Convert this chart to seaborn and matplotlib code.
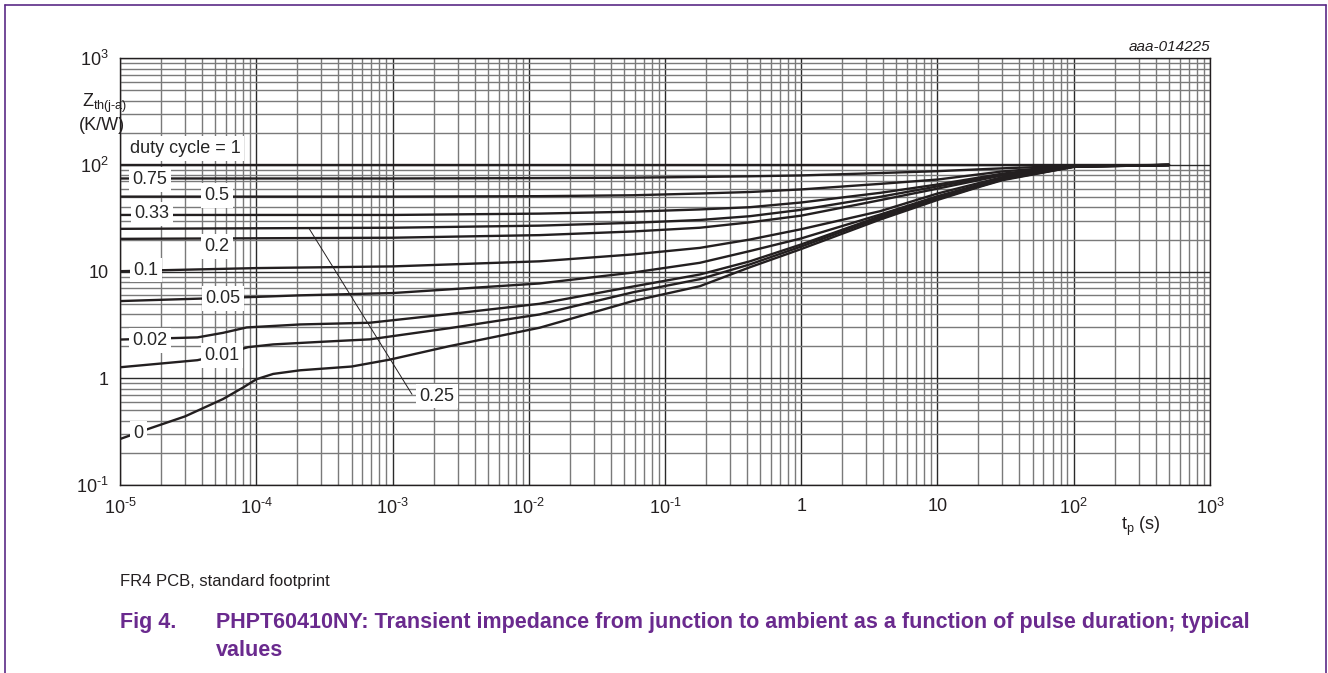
import matplotlib
matplotlib.use('Agg')
import matplotlib.pyplot as plt
from matplotlib.lines import Line2D
from matplotlib.ticker import LogLocator, NullFormatter
import pandas as pd
import seaborn as sns

# duty cycle curves (tp in s, Zth in K/W)
tp_d1 = [1e-5, 500]
z_d1 = [100, 100]

tp_d075 = [1e-5, 1e-3, 1.2e-2, 5.8e-2, 0.18, 0.42, 1, 3.8, 10, 30, 100, 500]
z_d075 = [74.7, 74.7, 75.3, 76, 77.3, 78.3, 79.8, 84, 87.5, 93, 98.5, 100]

tp_d05 = [1e-5, 1e-3, 1.2e-2, 5.8e-2, 0.18, 0.42, 1, 3.8, 10, 30, 100, 500]
z_d05 = [50.5, 50.5, 51, 52, 54, 55.8, 59, 66.5, 73, 87, 98, 100]

tp_d033 = [1e-5, 1e-3, 1.2e-2, 5.8e-2, 0.18, 0.42, 1, 3.8, 10, 30, 100, 500]
z_d033 = [34, 34, 35, 36.5, 38.3, 40.2, 44.5, 54.8, 65.6, 83, 97.5, 100]

tp_d025 = [1e-5, 1e-3, 1.2e-2, 5.8e-2, 0.18, 0.42, 1, 3.8, 10, 30, 100, 500]
z_d025 = [25.2, 25.8, 27, 28.7, 30.5, 33.1, 38, 50.3, 63, 81, 97.5, 100]

tp_d02 = [1e-5, 1e-3, 1.2e-2, 5.8e-2, 0.18, 0.42, 1, 3.8, 10, 30, 100, 500]
z_d02 = [20.3, 20.8, 22, 23.8, 25.8, 29, 33.5, 46.8, 60, 80, 97, 100]

tp_d01 = [1e-5, 1e-4, 1e-3, 1.2e-2, 5.8e-2, 0.18, 0.42, 1, 3.8, 10, 30, 100, 500]
z_d01 = [10.1, 10.8, 11.2, 12.5, 14.5, 16.7, 20, 25, 36.9, 54, 77, 97, 100]

tp_d005 = [1e-5, 1e-4, 2.1e-4, 1e-3, 1.2e-2, 5.8e-2, 0.18, 0.42, 1, 3.8, 10, 30, 100, 500]
z_d005 = [5.3, 5.8, 6.0, 6.3, 7.75, 9.8, 12.1, 15.6, 20.5, 34.3, 51, 75, 96.5, 100]

tp_d002 = [1e-5, 3.7e-5, 5.7e-5, 8.5e-5, 2.1e-4, 6.8e-4, 2.6e-3, 1.2e-2, 5.8e-2, 0.18, 0.42, 1,
           3.8, 10, 30, 100, 500]
z_d002 = [2.31, 2.42, 2.67, 3.0, 3.2, 3.32, 4.0, 5.0, 7.25, 9.4, 12.5, 18, 33.1, 49.5, 74, 96.5, 100]

tp_d001 = [1e-5, 3.7e-5, 5.7e-5, 8.7e-5, 1.33e-4, 3e-4, 6.8e-4, 2.6e-3, 1.2e-2, 5.8e-2, 0.18, 0.42, 1,
           3.8, 10, 30, 100, 500]
z_d001 = [1.27, 1.48, 1.68, 1.96, 2.08, 2.2, 2.32, 2.95, 3.97, 6.4, 8.5, 11.7, 17.2, 32, 48, 73, 96, 100]

tp_d0 = [1e-5, 1.66e-5, 3e-5, 5.7e-5, 8e-5, 1e-4, 1.33e-4, 2.1e-4, 5e-4, 9.6e-4, 2.6e-3, 1.2e-2,
         5.8e-2, 0.18, 0.42, 1, 3.8, 10, 20, 30, 100, 500]
z_d0 = [0.27, 0.34, 0.44, 0.64, 0.82, 0.98, 1.1, 1.19, 1.29, 1.5, 2.0, 2.98,
        5.3, 7.3, 11.0, 16.3, 30.8, 47, 62, 72, 96, 100]

duty_names = ['1', '0.75', '0.5', '0.33', '0.25', '0.2', '0.1', '0.05', '0.02', '0.01', '0']
tp_all = [tp_d1, tp_d075, tp_d05, tp_d033, tp_d025, tp_d02, tp_d01, tp_d005, tp_d002, tp_d001, tp_d0]
z_all = [z_d1, z_d075, z_d05, z_d033, z_d025, z_d02, z_d01, z_d005, z_d002, z_d001, z_d0]

HY = '\u2010'  # plain hyphen for the exponents, like the datasheet
x_tick_vals = [1e-5, 1e-4, 1e-3, 1e-2, 1e-1, 1, 10, 100, 1000]
x_tick_labels = ['$\\mathregular{10^{' + HY + '5}}$', '$\\mathregular{10^{' + HY + '4}}$',
                 '$\\mathregular{10^{' + HY + '3}}$', '$\\mathregular{10^{' + HY + '2}}$',
                 '$\\mathregular{10^{' + HY + '1}}$', '1', '10',
                 '$\\mathregular{10^{2}}$', '$\\mathregular{10^{3}}$']
y_tick_vals = [0.1, 1, 10, 100, 1000]
y_tick_labels = ['$\\mathregular{10^{' + HY + '1}}$', '1', '10', '$\\mathregular{10^{2}}$', '$\\mathregular{10^{3}}$']

# curve labels: text, x, y
curve_labels = [('0.75', 1.66e-5, 73), ('0.5', 5.16e-5, 51.8), ('0.33', 1.72e-5, 35),
                ('0.2', 5.16e-5, 17.2), ('0.1', 1.55e-5, 10.3), ('0.05', 5.7e-5, 5.6),
                ('0.02', 1.66e-5, 2.26), ('0.01', 5.6e-5, 1.64), ('0', 1.36e-5, 0.304)]

rows = []
for name, tps, zs in zip(duty_names, tp_all, z_all):
    for t, z in zip(tps, zs):
        rows.append({'tp': t, 'Z': z, 'duty': name})
df = pd.DataFrame(rows)

sns.set_style('white')
plt.rcParams['font.family'] = ['Liberation Sans', 'DejaVu Sans']
plt.rcParams['mathtext.fontset'] = 'custom'
plt.rcParams['mathtext.rm'] = 'Liberation Sans'
plt.rcParams['mathtext.it'] = 'Liberation Sans:italic'
plt.rcParams['mathtext.bf'] = 'Liberation Sans:bold'

fig = plt.figure(figsize=(13.28, 6.73), dpi=100)
ax = fig.add_axes([0.0904, 0.2793, 0.8207, 0.6341])

sns.lineplot(data=df, x='tp', y='Z', hue='duty', hue_order=duty_names,
             palette=['#231f20'] * len(duty_names), estimator=None, sort=True,
             legend=False, linewidth=1.7, ax=ax, zorder=3)

ax.set_xscale('log')
ax.set_yscale('log')
ax.xaxis.set_minor_locator(LogLocator(base=10, subs=range(2, 10), numticks=100))
ax.yaxis.set_minor_locator(LogLocator(base=10, subs=range(2, 10), numticks=100))
ax.set_xticks(x_tick_vals)
ax.set_xticklabels(x_tick_labels)
ax.set_yticks(y_tick_vals)
ax.set_yticklabels(y_tick_labels)
ax.xaxis.set_minor_formatter(NullFormatter())
ax.yaxis.set_minor_formatter(NullFormatter())
ax.set_xlim(1e-5, 1e3)
ax.set_ylim(0.1, 1e3)
ax.tick_params(which='both', length=0, labelsize=13, colors='#231f20')
ax.tick_params(axis='x', pad=9)
ax.tick_params(axis='y', pad=8)

ax.grid(which='major', color='#2a2a2a', linewidth=1.0)
ax.grid(which='minor', color='#7a7a7a', linewidth=1.0)
ax.set_axisbelow(True)
for sp in ax.spines.values():
    sp.set_color('#231f20')
    sp.set_linewidth(1.0)
ax.set_xlabel('')
ax.set_ylabel('')

box = dict(boxstyle='square,pad=0.2', fc='white', ec='none')
ax.text(1.18e-5, 143, 'duty cycle = 1', fontsize=13, ha='left', va='center', bbox=box, zorder=4)
for txt, lx, ly in curve_labels:
    ax.text(lx, ly, txt, fontsize=13, ha='center', va='center', bbox=box, zorder=4)

ax.plot([2.44e-4, 1.39e-3], [25.4, 0.708], color='#231f20', linewidth=0.7, zorder=4)
ax.text(2.12e-3, 0.68, '0.25', fontsize=13, ha='center', va='center', bbox=box, zorder=4)

ax.text(1.0, 1.01, 'aaa-014225', transform=ax.transAxes, ha='right', va='bottom',
        fontsize=11, style='italic', color='#231f20')
ax.text(0.937, -0.098, 't$_\\mathregular{p}$ (s)', transform=ax.transAxes, ha='center',
        va='center', fontsize=13, color='#231f20')

fig.text(0.079, 0.847, 'Z$_\\mathregular{th(j' + HY + 'a)}$', ha='center', va='center', fontsize=13, color='#231f20')
fig.text(0.077, 0.814, '(K/W)', ha='center', va='center', fontsize=13, color='#231f20')

purple = '#6a2a8e'
fig.text(0.0904, 0.1293, 'FR4 PCB, standard footprint', ha='left', va='baseline',
         fontsize=12, color='#231f20')
fig.text(0.0904, 0.0669, 'Fig 4.', ha='left', va='baseline', fontsize=15.5,
         fontweight='bold', color=purple)
fig.text(0.1627, 0.0669, 'PHPT60410NY: Transient impedance from junction to ambient as a function of pulse duration; typical',
         ha='left', va='baseline', fontsize=15.5, fontweight='bold', color=purple)
fig.text(0.1627, 0.0254, 'values', ha='left', va='baseline', fontsize=15.5,
         fontweight='bold', color=purple)

# page frame
frame_c = '#5b2a86'
fig.add_artist(Line2D([0.0041, 0.0041], [0.0, 0.9926], transform=fig.transFigure, color=frame_c, linewidth=1.2))
fig.add_artist(Line2D([0.0041, 0.9985], [0.9926, 0.9926], transform=fig.transFigure, color=frame_c, linewidth=1.2))
fig.add_artist(Line2D([0.9985, 0.9985], [0.0, 0.9926], transform=fig.transFigure, color=frame_c, linewidth=1.2))

fig.savefig('out.png', dpi=100, facecolor='white')
